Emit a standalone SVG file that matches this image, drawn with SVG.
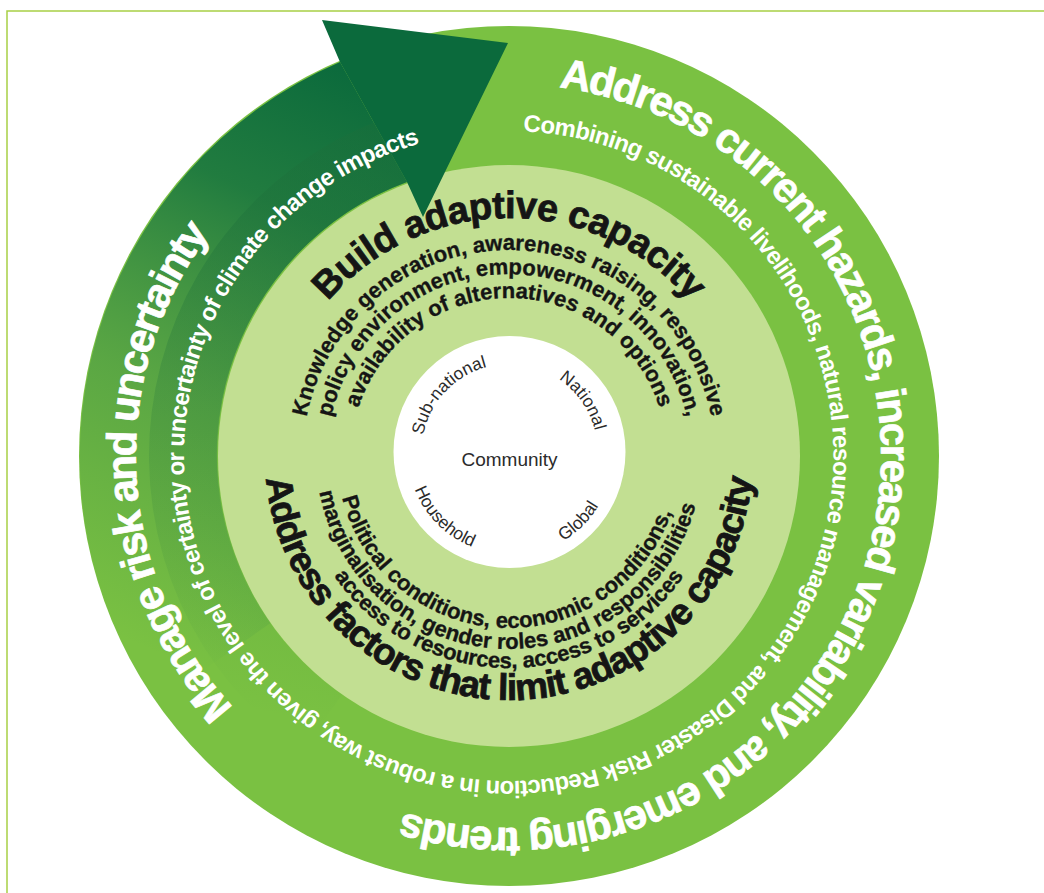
<svg xmlns="http://www.w3.org/2000/svg" width="1044" height="893" viewBox="0 0 1044 893">
<defs>
<style>
.w{fill:#ffffff;font-family:"Liberation Sans",Arial,Helvetica,sans-serif;font-weight:700}
.k{fill:#151515;font-family:"Liberation Sans",Arial,Helvetica,sans-serif;font-weight:700}
.big{font-size:42px;letter-spacing:-2px;stroke:#ffffff;stroke-width:0.7px}
.sm{font-size:24px;letter-spacing:-0.7px}
.hd{stroke:#151515;stroke-width:0.8px}
.ln{font-size:22px;letter-spacing:0px;stroke:#151515;stroke-width:0.35px}
.lbl{fill:#2b2b2b;font-family:"Liberation Sans",Arial,Helvetica,sans-serif;font-size:17.5px}
</style>
<linearGradient id="shaftG" gradientUnits="userSpaceOnUse" x1="150" y1="650" x2="400" y2="90">
<stop offset="0" stop-color="#3d8f45" stop-opacity="0"/>
<stop offset="0.4" stop-color="#3a8c45" stop-opacity="0.5"/>
<stop offset="0.75" stop-color="#17743f" stop-opacity="0.9"/>
<stop offset="1" stop-color="#0b6a3c" stop-opacity="1"/>
</linearGradient>
<linearGradient id="bandG" gradientUnits="userSpaceOnUse" x1="200" y1="700" x2="300" y2="250">
<stop offset="0" stop-color="#1d6e3a" stop-opacity="0"/>
<stop offset="1" stop-color="#1d6e3a" stop-opacity="0.35"/>
</linearGradient>
<path id="pA" d="M 381.8 106.4 A 372 372 0 1 1 250.6 723.6"/>
<path id="pC" d="M 381.4 806.5 A 373 373 0 0 1 345.5 120.7"/>
<path id="pB" d="M 523.18 131.31 A 325 325 0 0 1 494.82 780.69 A 325 325 0 0 1 506.16 131.01"/>
<path id="pD" d="M 274.6 414.7 A 238 238 0 0 1 743.4 414.7"/>
<path id="pE" d="M 303.8 438.05 A 206 206 0 0 1 714.2 438.05"/>
<path id="pF" d="M 327.7 440.14 A 182 182 0 0 1 690.3 440.14"/>
<path id="pG" d="M 351.6 442.23 A 158 158 0 0 1 666.4 442.23"/>
<path id="pH" d="M 265.93 434.73 A 244 244 0 1 0 752.07 434.73"/>
<path id="pI" d="M 338.47 433.55 A 172 172 0 1 0 680.84 448.50"/>
<path id="pJ" d="M 317.44 432.48 A 193 193 0 1 0 701.74 445.90"/>
<path id="pK" d="M 297.81 437.52 A 212 212 0 1 0 720.19 437.52"/>
<path id="pSub" d="M 421.55 455.07 A 88 88 0 0 1 506.43 364.05"/>
<path id="pNat" d="M 524.78 365.34 A 88 88 0 0 1 596.16 467.28"/>
<path id="pHou" d="M 407.5 452 A 102 102 0 0 0 509.5 554"/>
<path id="pGlo" d="M 509.5 556 A 104 104 0 0 0 613.5 452"/>
</defs>

<g id="frame">
<path d="M 1044 11 H 7 V 893" fill="none" stroke="#a8cf45" stroke-width="1.5"/>
</g>

<g id="outer-ring">
<circle cx="509" cy="456" r="430" fill="#7ac142"/>
</g>

<g id="adaptive-capacity-disc">
<circle cx="509" cy="456" r="291" fill="#c2df92"/>
</g>

<g id="core">
<circle cx="509.5" cy="452" r="116" fill="#ffffff"/>
</g>

<g id="arrow">
<path d="M 156.8 702.6 A 430 430 0 0 1 340 62 L 407 182 A 291 291 0 0 0 270.6 622.9 Z" fill="url(#shaftG)"/>
<path d="M 302.5 750.9 A 360 360 0 0 1 380 119.9 L 407 182 A 291 291 0 0 0 342.1 694.4 Z" fill="url(#bandG)"/>
<path d="M 322 20 L 508 43 L 423 217 L 407 182 L 340 62 Z" fill="#0b6a3c"/>
</g>

<g id="ring-texts">
<text class="w big"><textPath href="#pA" startOffset="50%" text-anchor="middle">Address current hazards, increased variability, and emerging trends</textPath></text>
<text class="w big"><textPath href="#pC" startOffset="50%" text-anchor="middle">Manage risk and uncertainty</textPath></text>
<text class="w sm"><textPath href="#pB" startOffset="0">Combining sustainable livelihoods, natural resource management, and Disaster Risk Reduction in a robust way, given the level of certainty or uncertainty of climate change impacts</textPath></text>
</g>

<g id="build-capacity-texts">
<text class="k hd" style="font-size:38px;letter-spacing:-0.5px"><textPath href="#pD" startOffset="50%" text-anchor="middle">Build adaptive capacity</textPath></text>
<text class="k ln"><textPath href="#pE" startOffset="50%" text-anchor="middle">Knowledge generation, awareness raising, responsive</textPath></text>
<text class="k ln"><textPath href="#pF" startOffset="50%" text-anchor="middle">policy environment, empowerment, innovation,</textPath></text>
<text class="k ln"><textPath href="#pG" startOffset="50%" text-anchor="middle">availability of alternatives and options</textPath></text>
</g>

<g id="limit-factors-texts">
<text class="k hd" style="font-size:37px;letter-spacing:-1px"><textPath href="#pH" startOffset="50%" text-anchor="middle">Address factors that limit adaptive capacity</textPath></text>
<text class="k ln"><textPath href="#pI" startOffset="50%" text-anchor="middle">Political conditions, economic conditions,</textPath></text>
<text class="k ln"><textPath href="#pJ" startOffset="50%" text-anchor="middle">marginalisation, gender roles and responsibilities</textPath></text>
<text class="k ln" style="letter-spacing:-0.2px"><textPath href="#pK" startOffset="50%" text-anchor="middle">access to resources, access to services</textPath></text>
</g>

<g id="scale-labels">
<text class="lbl" x="509.5" y="466" text-anchor="middle" style="font-size:19px">Community</text>
<text class="lbl"><textPath href="#pSub" startOffset="50%" text-anchor="middle">Sub-national</textPath></text>
<text class="lbl"><textPath href="#pNat" startOffset="50%" text-anchor="middle">National</textPath></text>
<text class="lbl"><textPath href="#pHou" startOffset="50%" text-anchor="middle">Household</textPath></text>
<text class="lbl"><textPath href="#pGlo" startOffset="50%" text-anchor="middle">Global</textPath></text>
</g>
</svg>
